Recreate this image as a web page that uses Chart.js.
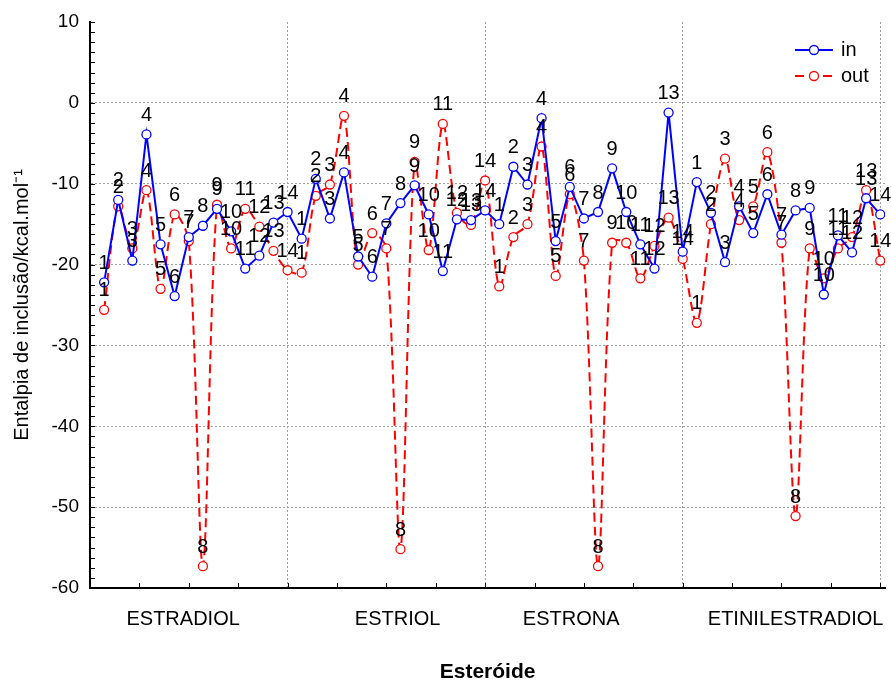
<!DOCTYPE html>
<html>
<head>
<meta charset="utf-8">
<script src="https://cdn.jsdelivr.net/npm/chart.js@4.4.1/dist/chart.umd.min.js"></script>
<style>
  html, body { margin: 0; padding: 0; background: #fff; }
  #wrap { width: 891px; height: 681px; }
</style>
</head>
<body>
<div id="wrap"><canvas id="chart"></canvas></div>
<script>
const steroids = ["ESTRADIOL", "ESTRIOL", "ESTRONA", "ETINILESTRADIOL"];
const pointNumbers = [1, 2, 3, 4, 5, 6, 7, 8, 9, 10, 11, 12, 13, 14];

// "in" series, one array per steroid
const inEstradiol = [-22.2, -12.0, -19.5, -3.9, -17.5, -23.9, -16.6, -15.2, -13.1, -15.9, -20.5, -18.9, -14.8, -13.5];
const inEstriol = [-16.8, -9.4, -14.3, -8.6, -19.0, -21.5, -14.9, -12.4, -10.2, -13.8, -20.8, -14.4, -14.5, -13.3];
const inEstrona = [-15.0, -7.9, -10.1, -1.9, -17.1, -10.4, -14.3, -13.5, -8.1, -13.5, -17.5, -20.5, -1.2, -18.4];
const inEtinilestradiol = [-9.8, -13.6, -19.7, -12.8, -16.1, -11.3, -16.3, -13.3, -13.0, -23.7, -16.4, -18.5, -11.8, -13.8];

// "out" series
const outEstradiol = [-25.6, -12.8, -18.0, -10.8, -23.0, -13.8, -17.1, -57.3, -12.6, -18.0, -13.1, -15.3, -18.3, -20.7];
const outEstriol = [-21.0, -11.5, -10.1, -1.6, -20.0, -16.1, -18.0, -55.2, -7.3, -18.2, -2.6, -13.6, -15.1, -9.6];
const outEstrona = [-22.7, -16.6, -15.0, -5.4, -21.4, -11.3, -19.5, -57.3, -17.3, -17.3, -21.7, -17.7, -14.2, -19.3];
const outEtinilestradiol = [-27.2, -15.0, -6.9, -14.5, -12.8, -6.1, -17.3, -51.1, -18.0, -21.7, -18.0, -16.6, -10.8, -19.5];

const inValues = [inEstradiol, inEstriol, inEstrona, inEtinilestradiol];
const outValues = [outEstradiol, outEstriol, outEstrona, outEtinilestradiol];

const FONT = "Arial, 'Liberation Sans', sans-serif";
const n = pointNumbers.length;

// x position of each point: group offset + point number
const toPoints = (groups) =>
  groups.flatMap((vals, g) => vals.map((y, i) => ({ x: g * n + pointNumbers[i], y })));

// number above every marker
const pointLabels = {
  id: "pointLabels",
  afterDatasetsDraw(chart) {
    const { ctx } = chart;
    ctx.save();
    ctx.font = `20px ${FONT}`;
    ctx.fillStyle = "#000";
    ctx.textAlign = "center";
    ctx.textBaseline = "middle";
    chart.data.datasets.forEach((ds, di) => {
      chart.getDatasetMeta(di).data.forEach((pt, i) => {
        ctx.fillText(String(pointNumbers[i % n]), pt.x, pt.y - 19);
      });
    });
    ctx.restore();
  },
};

// small inward ticks on both axes
const innerTicks = {
  id: "innerTicks",
  afterDraw(chart) {
    const { ctx, chartArea: a, scales: { x, y } } = chart;
    ctx.save();
    ctx.strokeStyle = "#000";
    ctx.lineWidth = 1;
    ctx.beginPath();
    for (let v = y.min; v <= y.max; v += 1.25) {
      const py = Math.round(y.getPixelForValue(v)) + 0.5;
      ctx.moveTo(a.left, py);
      ctx.lineTo(a.left + 5, py);
    }
    for (let v = 3.5; v <= 56; v += 3.5) {
      const px = Math.round(x.getPixelForValue(v)) + 0.5;
      ctx.moveTo(px, a.bottom);
      ctx.lineTo(px, a.bottom - 5);
    }
    ctx.stroke();
    ctx.restore();
  },
};

// legend with line + marker, top right
const lineLegend = {
  id: "lineLegend",
  afterDraw(chart) {
    const { ctx } = chart;
    chart.data.datasets.forEach((ds, i) => {
      const y = 50 + i * 26;
      ctx.save();
      ctx.strokeStyle = ds.borderColor;
      ctx.lineWidth = 2;
      ctx.setLineDash(ds.borderDash || []);
      ctx.beginPath();
      ctx.moveTo(795, y);
      ctx.lineTo(833, y);
      ctx.stroke();
      ctx.setLineDash([]);
      ctx.fillStyle = "#fff";
      ctx.lineWidth = 1.3;
      ctx.beginPath();
      ctx.arc(814, y, 4.5, 0, Math.PI * 2);
      ctx.fill();
      ctx.stroke();
      ctx.fillStyle = "#000";
      ctx.font = `20px ${FONT}`;
      ctx.textAlign = "left";
      ctx.textBaseline = "middle";
      ctx.fillText(ds.label, 841, y);
      ctx.restore();
    });
  },
};

const lineStyle = (color) => ({
  borderColor: color,
  borderWidth: 2,
  pointRadius: 4.5,
  pointBorderWidth: 1.3,
  pointBackgroundColor: "#fff",
  pointBorderColor: color,
  backgroundColor: "#fff",
});

new Chart(document.getElementById("chart"), {
  type: "line",
  data: {
    datasets: [
      { label: "in", data: toPoints(inValues), ...lineStyle("#0000ff"), tension: 0 },
      { label: "out", data: toPoints(outValues), ...lineStyle("#ff0000"), borderDash: [9, 5], tension: 0.3 },
    ],
  },
  options: {
    responsive: true,
    maintainAspectRatio: false,
    animation: false,
    layout: { padding: { top: 22, right: 0, bottom: 0, left: 0 } },
    plugins: { legend: { display: false }, tooltip: { enabled: false } },
    scales: {
      x: {
        type: "linear",
        min: 0,
        max: 56.35,
        position: "bottom",
        weight: 0,
        afterBuildTicks: (s) => { s.ticks = [14, 28, 42, 56].map((value) => ({ value })); },
        ticks: { display: false },
        grid: { color: "#a0a0a0", lineWidth: 1, drawTicks: false },
        border: { display: true, color: "#000", width: 2, dash: [2, 2] },
        afterFit: (s) => { s.height = 0; s.paddingLeft = 0; s.paddingRight = 0; },
      },
      x2: {
        type: "linear",
        min: 0,
        max: 56.35,
        position: "bottom",
        weight: 1,
        afterBuildTicks: (s) => { s.ticks = [6.6, 21.8, 34.1, 50].map((value) => ({ value })); },
        ticks: {
          autoSkip: false,
          maxRotation: 0,
          padding: 19,
          color: "#000",
          font: { size: 20, family: FONT },
          callback: (v, i) => steroids[i],
        },
        grid: { display: false, drawTicks: false },
        border: { display: false },
        title: {
          display: true,
          text: "Esteróide",
          color: "#000",
          font: { size: 21, weight: "bold", family: FONT },
          padding: { top: 0, bottom: -4 },
        },
        afterFit: (s) => { s.height = 93; s.paddingLeft = 0; s.paddingRight = 0; },
      },
      y: {
        min: -60,
        max: 10,
        ticks: { stepSize: 10, padding: 11, color: "#000", font: { size: 19, family: FONT } },
        grid: {
          color: (c) => (c.tick && (c.tick.value === 10 || c.tick.value === -60) ? "transparent" : "#a0a0a0"),
          drawTicks: false,
        },
        border: { color: "#000", width: 2, dash: [2, 2] },
        title: {
          display: true,
          text: "Entalpia de inclusão/kcal.mol⁻¹",
          color: "#000",
          font: { size: 20, family: FONT },
          padding: { top: 10, bottom: 0 },
        },
        afterFit: (s) => { s.width = 90; s.paddingTop = 0; s.paddingBottom = 0; },
      },
    },
  },
  plugins: [innerTicks, pointLabels, lineLegend],
});
</script>
</body>
</html>
